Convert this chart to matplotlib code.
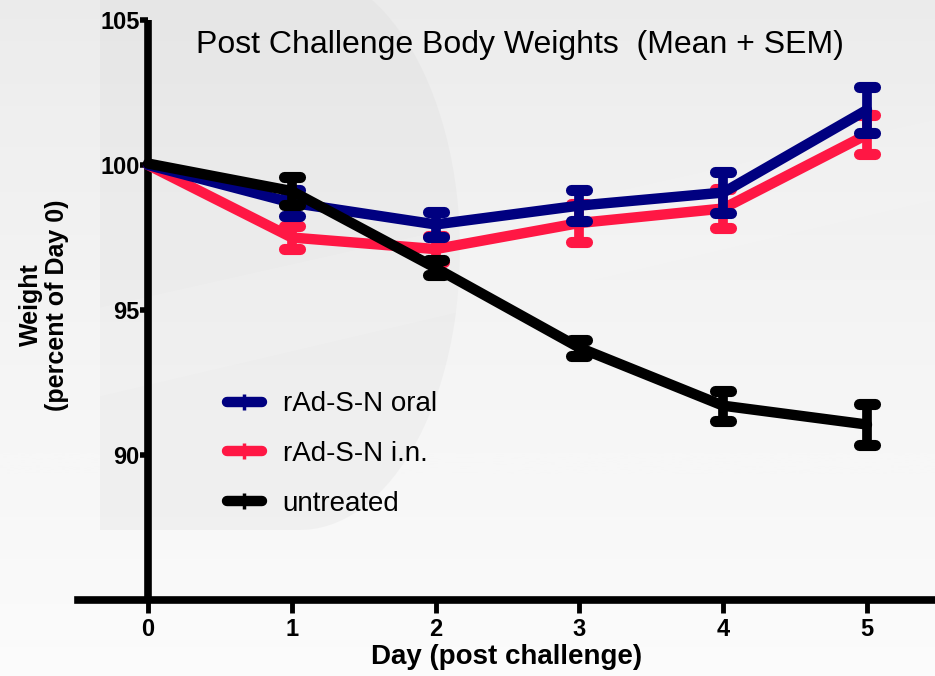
import matplotlib.pyplot as plt
import matplotlib.patches as mpatches
from matplotlib.lines import Line2D
import numpy as np

plt.rcParams['font.family'] = ['Liberation Sans', 'DejaVu Sans']

# Data
days = [0, 1, 2, 3, 4, 5]

oral_mean = [100.0, 98.7, 97.95, 98.6, 99.05, 101.9]
oral_sem = [0.0, 0.45, 0.43, 0.53, 0.72, 0.8]

inas_mean = [100.0, 97.5, 97.1, 98.0, 98.5, 101.05]
inas_sem = [0.0, 0.38, 0.45, 0.65, 0.67, 0.67]

untr_mean = [100.05, 99.1, 96.45, 93.7, 91.7, 91.05]
untr_sem = [0.0, 0.47, 0.26, 0.28, 0.52, 0.72]

series = [
    ("rAd-S-N i.n.", inas_mean, inas_sem, "#ff1744"),
    ("rAd-S-N oral", oral_mean, oral_sem, "#000080"),
    ("untreated", untr_mean, untr_sem, "#000000"),
]
legend_order = ["rAd-S-N oral", "rAd-S-N i.n.", "untreated"]

W, H = 935, 676
fig = plt.figure(figsize=(W / 100, H / 100), dpi=100)
fig.patch.set_facecolor('#ececec')

# Background: soft gradient with a faint "D" watermark
bg = fig.add_axes([0, 0, 1, 1], zorder=-10)
grad = np.linspace(0, 1, 256).reshape(-1, 1)
bg.imshow(grad, aspect='auto', cmap='Greys_r', vmin=-7.0, vmax=1.25,
          extent=[0, W, H, 0])
theta = np.linspace(-np.pi / 2, np.pi / 2, 60)
bowl_x = 300 + 160 * np.cos(theta)
bowl_y = 250 + 280 * np.sin(theta)
d_shape = np.column_stack([np.r_[100, bowl_x, 100], np.r_[530, bowl_y[::-1], -30]])
bg.add_patch(mpatches.Polygon(d_shape, closed=True, facecolor='#d0d0d0',
                              alpha=0.18, edgecolor='none'))
bg.add_patch(mpatches.Polygon([[0, 330], [935, 120], [935, 200], [0, 420]],
                              closed=True, facecolor='#f6f6f6', alpha=0.25,
                              edgecolor='none'))
bg.set_xlim(0, W)
bg.set_ylim(H, 0)
bg.axis('off')

left, right = 78 / W, 1.0
bottom, top = (H - 600) / H, (H - 20) / H
ax = fig.add_axes([left, bottom, right - left, top - bottom])
ax.patch.set_alpha(0)

ax.set_xlim(-0.487, 5.473)
ax.set_ylim(85, 105)

cap_half = 0.055
handles = {}
for label, mean, sem, color in series:
    x = np.array(days, dtype=float)
    m = np.array(mean)
    s = np.array(sem)
    ax.plot(x, m, color=color, lw=7.5, solid_joinstyle='round',
            solid_capstyle='round', zorder=3)
    has_err = s > 0
    ax.vlines(x[has_err], m[has_err] - s[has_err], m[has_err] + s[has_err],
              color=color, lw=7, zorder=3)
    for yy in (m - s, m + s):
        ax.hlines(yy[has_err], x[has_err] - cap_half, x[has_err] + cap_half,
                  color=color, lw=8, capstyle='round', zorder=3)
    handles[label] = Line2D([0], [0], color=color, lw=7.5,
                            solid_capstyle='round', marker='|',
                            markersize=11, markeredgewidth=2.5)

# Axes styling
for side in ('top', 'right'):
    ax.spines[side].set_visible(False)
ax.spines['left'].set_position(('data', 0))
ax.spines['left'].set_linewidth(5.5)
ax.spines['bottom'].set_linewidth(5.5)
ax.spines['left'].set_bounds(85, 105)
ax.spines['left'].set_capstyle('butt')

ax.set_xticks(days)
ax.set_yticks([90, 95, 100, 105])
ax.tick_params(axis='x', direction='out', length=9, width=3.5, pad=4,
               labelsize=17)
ax.tick_params(axis='y', direction='out', length=6, width=4, pad=0,
               labelsize=17)
for t in ax.get_xticklabels() + ax.get_yticklabels():
    t.set_fontweight('bold')

ax.set_xlabel("Day (post challenge)", fontsize=20, fontweight='bold',
              labelpad=2)
fig.text(44 / W, 1 - 305 / H, "Weight\n(percent of Day 0)", rotation=90,
         ha='center', va='center', fontsize=18, fontweight='bold',
         multialignment='center', linespacing=1.1)

fig.text(520 / W, 1 - 45 / H, "Post Challenge Body Weights  (Mean + SEM)",
         ha='center', va='center', fontsize=23)

ax.legend([handles[k] for k in legend_order], legend_order,
          loc='center left', bbox_to_anchor=((227 - 78) / 857, (600 - 454) / 580),
          frameon=False, fontsize=20, handlelength=1.25, handletextpad=0.75,
          labelspacing=0.85, borderpad=0, borderaxespad=0)

fig.savefig('out.png', dpi=100)
